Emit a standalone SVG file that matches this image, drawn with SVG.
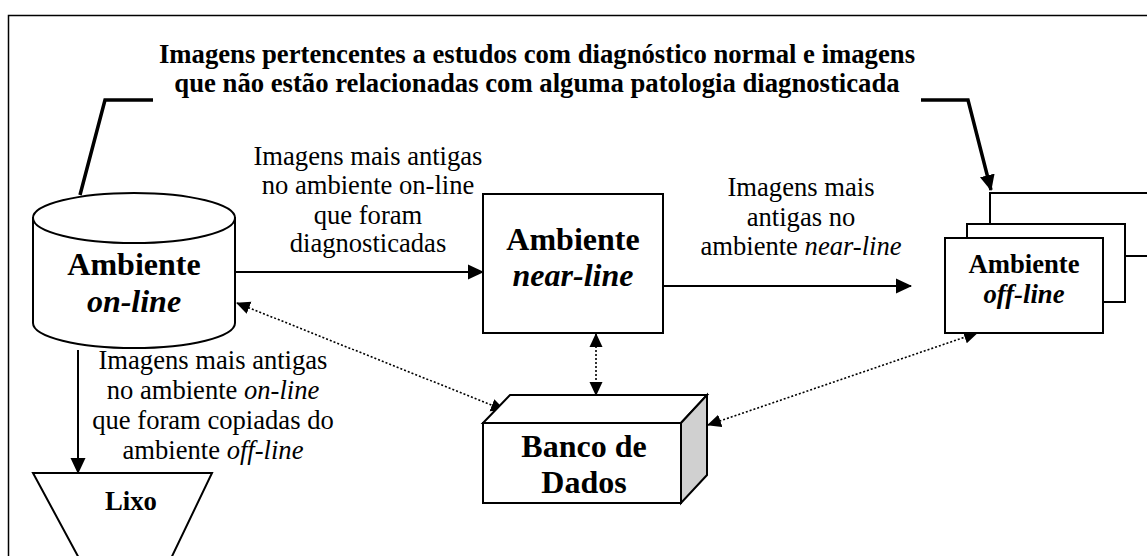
<svg xmlns="http://www.w3.org/2000/svg" width="1147" height="556" viewBox="0 0 1147 556">
<defs>
<style>
text{font-family:"Liberation Serif","Times New Roman",serif;fill:#000;text-anchor:middle}
.t{font-size:26.7px;font-weight:bold}
.lbl{font-size:26.6px}
.big{font-size:32px;font-weight:bold}
.mid{font-size:26.7px;font-weight:bold}
.shape{fill:#fff;stroke:#000;stroke-width:2}
.conn{fill:none;stroke:#000;stroke-width:2}
.dot{fill:none;stroke:#000;stroke-width:1.6;stroke-dasharray:2 2}
.call{fill:none;stroke:#000;stroke-width:3.5}
</style>
<marker id="ah" markerUnits="userSpaceOnUse" markerWidth="16" markerHeight="16" refX="15" refY="7.5" orient="auto-start-reverse" viewBox="0 0 16 15">
<path d="M0,0 L16,7.5 L0,15 z" fill="#000"/>
</marker>
<marker id="ahs" markerUnits="userSpaceOnUse" markerWidth="14" markerHeight="14" refX="13" refY="6.5" orient="auto-start-reverse" viewBox="0 0 14 13">
<path d="M0,0 L14,6.5 L0,13 z" fill="#000"/>
</marker>
<clipPath id="dadosclip"><rect x="483" y="423" width="198" height="71"/></clipPath>
</defs>
<rect x="8.5" y="15.5" width="1160" height="620" fill="#fff" stroke="#000" stroke-width="1.5"/>
<g id="title">
<text class="t" x="537" y="63">Imagens pertencentes a estudos com diagnóstico normal e imagens</text>
<text class="t" x="537" y="92">que não estão relacionadas com alguma patologia diagnosticada</text>
</g>
<g id="connectors">
<polyline class="call" points="153,100 105,100 80,195"/>
<polyline class="call" points="921,100 968,100 991,190" marker-end="url(#ah)"/>
<line class="conn" x1="236" y1="272" x2="483" y2="272" marker-end="url(#ah)"/>
<line class="conn" x1="663" y1="286" x2="911" y2="286" marker-end="url(#ah)"/>
<line class="conn" x1="78" y1="350" x2="78" y2="473" marker-end="url(#ah)"/>
<line class="dot" x1="237" y1="303" x2="504" y2="410" marker-start="url(#ahs)" marker-end="url(#ahs)"/>
<line class="dot" x1="596" y1="334" x2="596" y2="395" marker-start="url(#ahs)" marker-end="url(#ahs)"/>
<line class="dot" x1="708" y1="425" x2="977" y2="333" marker-start="url(#ahs)" marker-end="url(#ahs)"/>
</g>
<g id="label-diag">
<text class="lbl" x="368" y="165">Imagens mais antigas</text>
<text class="lbl" x="368" y="194">no ambiente on-line</text>
<text class="lbl" x="368" y="224">que foram</text>
<text class="lbl" x="368" y="252">diagnosticadas</text>
</g>
<g id="label-near">
<text class="lbl" x="801" y="196">Imagens mais</text>
<text class="lbl" x="801" y="226">antigas no</text>
<text class="lbl" x="801" y="255">ambiente <tspan font-style="italic">near-line</tspan></text>
</g>
<g id="label-lixo">
<text class="lbl" x="213" y="369">Imagens mais antigas</text>
<text class="lbl" x="213" y="399">no ambiente <tspan font-style="italic">on-line</tspan></text>
<text class="lbl" x="213" y="429">que foram copiadas do</text>
<text class="lbl" x="213" y="459">ambiente <tspan font-style="italic">off-line</tspan></text>
</g>
<g id="online">
<path class="shape" d="M33,218 L33,323 A101,25 0 0 0 235,323 L235,218 Z"/>
<ellipse class="shape" cx="134" cy="218" rx="101" ry="25"/>
<text class="big" x="134" y="275">Ambiente</text>
<text class="big" x="134" y="312" font-style="italic">on-line</text>
</g>
<g id="nearline">
<rect class="shape" x="483" y="194" width="180" height="139"/>
<text class="big" x="573" y="250">Ambiente</text>
<text class="big" x="573" y="286" font-style="italic">near-line</text>
</g>
<g id="offline">
<rect class="shape" x="990" y="193" width="180" height="63"/>
<rect class="shape" x="967" y="224" width="158" height="78"/>
<rect class="shape" x="945" y="238" width="158" height="95"/>
<text class="mid" x="1024" y="273">Ambiente</text>
<text class="mid" x="1024" y="303" font-style="italic">off-line</text>
</g>
<g id="banco">
<polygon class="shape" points="483,423 510,395 707,395 681,423"/>
<polygon points="681,423 707,395 707,475 681,503" fill="#d0d0d0" stroke="#000" stroke-width="2"/>
<rect class="shape" x="483" y="423" width="198" height="80"/>
<text class="big" x="584" y="457">Banco de</text>
<text class="big" x="584" y="493" clip-path="url(#dadosclip)">Dados</text>
</g>
<g id="lixo">
<polygon class="shape" points="33,473 212,473 164,573 87,573"/>
<text class="mid" x="131" y="510">Lixo</text>
</g>
</svg>
